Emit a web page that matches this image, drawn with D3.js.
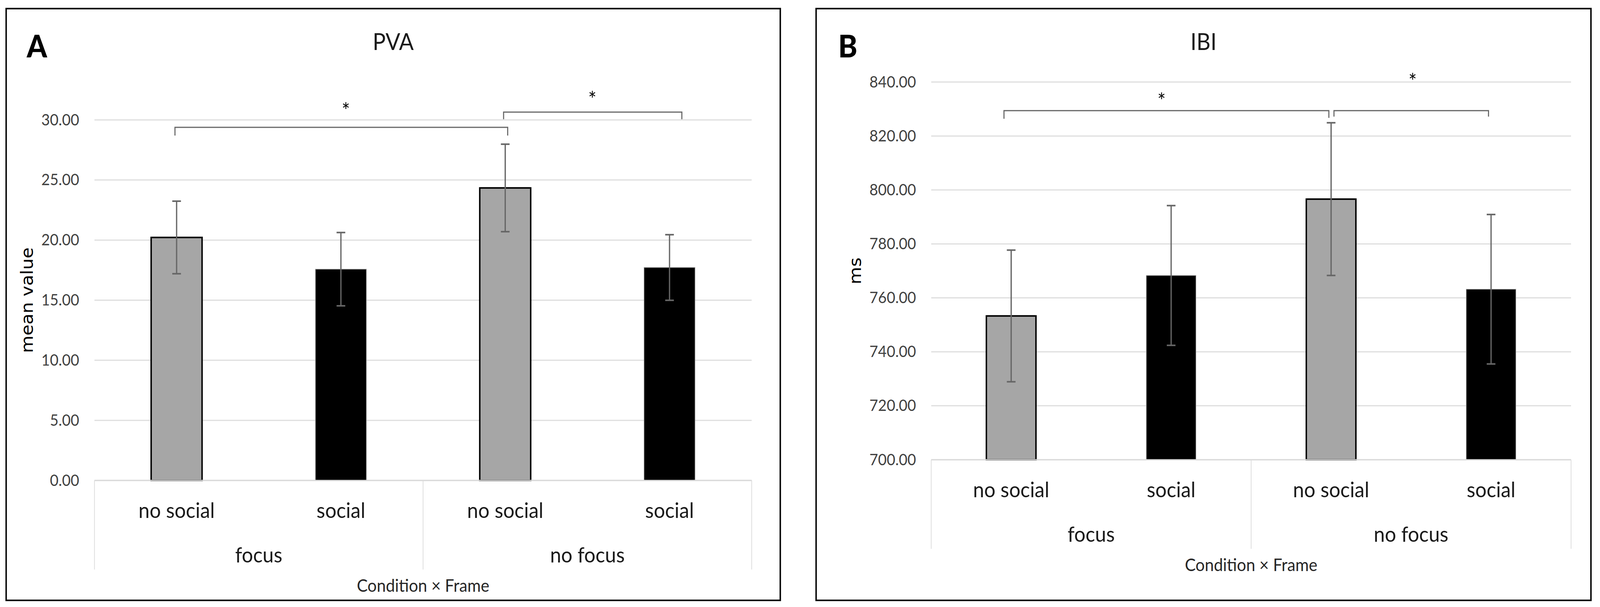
<!DOCTYPE html>
<html><head><meta charset="utf-8">
<script src="https://cdn.jsdelivr.net/npm/d3@7"></script>
<style>html,body{margin:0;padding:0;background:#fff;overflow:hidden;} svg{display:block;width:100vw;height:100vh;}</style>
</head><body>
<svg id="chart" viewBox="0 0 4421 1554" preserveAspectRatio="none"></svg>
<script>
// ---------- data ----------
const frames = ["no social", "social", "no social", "social"];
const conditions = ["focus", "no focus"];
const barColors = ["#a6a6a6", "#000000", "#a6a6a6", "#000000"];

const pvaMeans  = [20.22, 17.58, 24.34, 17.72];
const pvaErrors = [3.02, 3.05, 3.64, 2.73];
const pvaTicks  = [0, 5, 10, 15, 20, 25, 30];
const pvaBrackets = [
  {from: -0.01, to: 2.015, y: 29.38, endL: 28.70, endR: 28.70},
  {from: 1.99,  to: 3.075, y: 30.65, endL: 30.06, endR: 30.06}
];
const pvaStars = [{x: 1.03, y: 31.13}, {x: 2.53, y: 32.08}];

const ibiMeans  = [753.3, 768.3, 796.6, 763.2];
const ibiErrors = [24.4, 25.9, 28.3, 27.7];
const ibiTicks  = [700, 720, 740, 760, 780, 800, 820, 840];
const ibiBrackets = [
  {from: -0.045, to: 1.986, y: 829.4, endL: 826.4, endR: 826.7},
  {from: 2.018,  to: 2.984, y: 829.4, endL: 827.2, endR: 827.2}
];
const ibiStars = [{x: 0.94, y: 834.6}, {x: 2.51, y: 841.9}];

// ---------- drawing ----------
const svg = d3.select("#chart");
svg.append("rect").attr("width", 4421).attr("height", 1554).attr("fill", "#fff");

const FONT = "Lato, 'Open Sans', sans-serif";

function drawPanel(cfg) {
  const g = svg.append("g");
  // frame
  g.append("rect")
    .attr("x", cfg.frame[0]).attr("y", cfg.frame[1])
    .attr("width", cfg.frame[2] - cfg.frame[0]).attr("height", cfg.frame[3] - cfg.frame[1])
    .attr("fill", "none").attr("stroke", "#000").attr("stroke-width", 4);

  const idx = d3.range(cfg.means.length);
  const band = d3.scaleBand().domain(idx).range([cfg.left, cfg.right]).padding(0);
  const xPos = d3.scaleLinear().domain([-0.5, idx.length - 0.5]).range([cfg.left, cfg.right]);
  const y = d3.scaleLinear().domain(cfg.domain).range([cfg.bottom, cfg.top]);

  // gridlines
  g.append("g").selectAll("line").data(cfg.ticks).join("line")
    .attr("x1", cfg.left).attr("x2", cfg.right)
    .attr("y1", d => y(d)).attr("y2", d => y(d))
    .attr("stroke", "#dedede").attr("stroke-width", 3);

  // y axis labels
  const yAxis = g.append("g").attr("transform", `translate(${cfg.left},0)`)
    .call(d3.axisLeft(y).tickValues(cfg.ticks).tickSize(0).tickPadding(42).tickFormat(d3.format(".2f")));
  yAxis.select(".domain").remove();
  yAxis.selectAll("text").attr("font-family", FONT).attr("font-size", 41).attr("fill", "#404040");

  // bars
  const bw = band.bandwidth() * 0.31;
  g.append("g").selectAll("rect").data(idx).join("rect")
    .attr("x", i => xPos(i) - bw / 2)
    .attr("y", i => y(cfg.means[i]))
    .attr("width", bw)
    .attr("height", i => y(cfg.domain[0]) - y(cfg.means[i]))
    .attr("fill", i => barColors[i])
    .attr("stroke", i => barColors[i] === "#000000" ? "#9a9a9a" : "#000")
    .attr("stroke-width", i => barColors[i] === "#000000" ? 1.5 : 4);

  // error bars
  const eg = g.append("g").attr("stroke", "#666").attr("fill", "none");
  eg.selectAll("line.v").data(idx).join("line").attr("class", "v")
    .attr("x1", i => xPos(i)).attr("x2", i => xPos(i))
    .attr("y1", i => y(cfg.means[i] + cfg.errors[i]))
    .attr("y2", i => y(cfg.means[i] - cfg.errors[i]))
    .attr("stroke-width", 3.5);
  [1, -1].forEach(s => {
    eg.selectAll("line.c" + (s > 0 ? "t" : "b")).data(idx).join("line").attr("class", "c" + (s > 0 ? "t" : "b"))
      .attr("x1", i => xPos(i) - 12).attr("x2", i => xPos(i) + 12)
      .attr("y1", i => y(cfg.means[i] + s * cfg.errors[i]))
      .attr("y2", i => y(cfg.means[i] + s * cfg.errors[i]))
      .attr("stroke-width", 4);
  });

  // category axis
  const base = y(cfg.domain[0]);
  g.append("line").attr("x1", cfg.left).attr("x2", cfg.right).attr("y1", base).attr("y2", base)
    .attr("stroke", "#d9d9d9").attr("stroke-width", 3);
  const groupBand = d3.scaleBand().domain(conditions).range([cfg.left, cfg.right]).padding(0);
  const seps = [cfg.left, ...conditions.slice(1).map(c => groupBand(c)), cfg.right];
  g.append("g").selectAll("line").data(seps).join("line")
    .attr("x1", d => d).attr("x2", d => d)
    .attr("y1", base).attr("y2", base + 228)
    .attr("stroke", "#dcdcdc").attr("stroke-width", 2);

  const xAxis = g.append("g").attr("transform", `translate(0,${base})`)
    .call(d3.axisBottom(band).tickSize(0).tickPadding(0).tickFormat(i => frames[i]));
  xAxis.select(".domain").remove();
  xAxis.selectAll("text").attr("y", 96).attr("dy", null)
    .attr("font-family", FONT).attr("font-size", 55).attr("fill", "#1a1a1a");

  g.append("g").selectAll("text").data(conditions).join("text")
    .attr("x", c => groupBand(c) + groupBand.bandwidth() / 2)
    .attr("y", base + 210)
    .attr("text-anchor", "middle")
    .attr("font-family", FONT).attr("font-size", 55).attr("fill", "#1a1a1a")
    .text(c => c);

  g.append("text")
    .attr("x", (cfg.left + cfg.right) / 2).attr("y", base + 285)
    .attr("text-anchor", "middle")
    .attr("font-family", FONT).attr("font-size", 45).attr("fill", "#262626")
    .text("Condition × Frame");

  // y label
  const yc = (cfg.top + cfg.bottom) / 2;
  g.append("text")
    .attr("transform", `translate(${cfg.ylabelX},${yc}) rotate(-90)`)
    .attr("text-anchor", "middle")
    .attr("font-family", "'DejaVu Sans', Verdana, sans-serif").attr("font-size", 46).attr("fill", "#000")
    .text(cfg.ylabel);

  // title
  g.append("text")
    .attr("x", (cfg.frame[0] + cfg.frame[2]) / 2).attr("y", 128)
    .attr("text-anchor", "middle")
    .attr("font-family", FONT).attr("font-size", 60).attr("fill", "#1a1a1a")
    .text(cfg.title);

  // panel letter
  g.append("text")
    .attr("x", cfg.letterX).attr("y", 147)
    .attr("font-family", FONT).attr("font-weight", 900).attr("font-size", 80).attr("fill", "#000")
    .text(cfg.letter);

  // significance brackets
  const bg = g.append("g").attr("fill", "none").attr("stroke", "#666").attr("stroke-width", 3);
  bg.selectAll("path").data(cfg.brackets).join("path")
    .attr("d", b => `M${xPos(b.from)},${y(b.endL)}V${y(b.y)}H${xPos(b.to)}V${y(b.endR)}`);
  g.append("g").selectAll("text").data(cfg.stars).join("text")
    .attr("x", s => xPos(s.x)).attr("y", s => y(s.y)).attr("dy", "0.55em")
    .attr("text-anchor", "middle")
    .attr("font-family", FONT).attr("font-size", 54).attr("fill", "#000")
    .text("*");
}

drawPanel({
  frame: [17, 22, 2156, 1537],
  left: 261, right: 2077, top: 307, bottom: 1230,
  domain: [0, 30], ticks: pvaTicks,
  means: pvaMeans, errors: pvaErrors,
  brackets: pvaBrackets, stars: pvaStars,
  ylabel: "mean value", ylabelX: 91,
  title: "PVA", letter: "A", letterX: 74
});

drawPanel({
  frame: [2255, 22, 4396, 1537],
  left: 2573, right: 4341, top: 210, bottom: 1177,
  domain: [700, 840], ticks: ibiTicks,
  means: ibiMeans, errors: ibiErrors,
  brackets: ibiBrackets, stars: ibiStars,
  ylabel: "ms", ylabelX: 2379,
  title: "IBI", letter: "B", letterX: 2316
});
</script>
</body></html>
